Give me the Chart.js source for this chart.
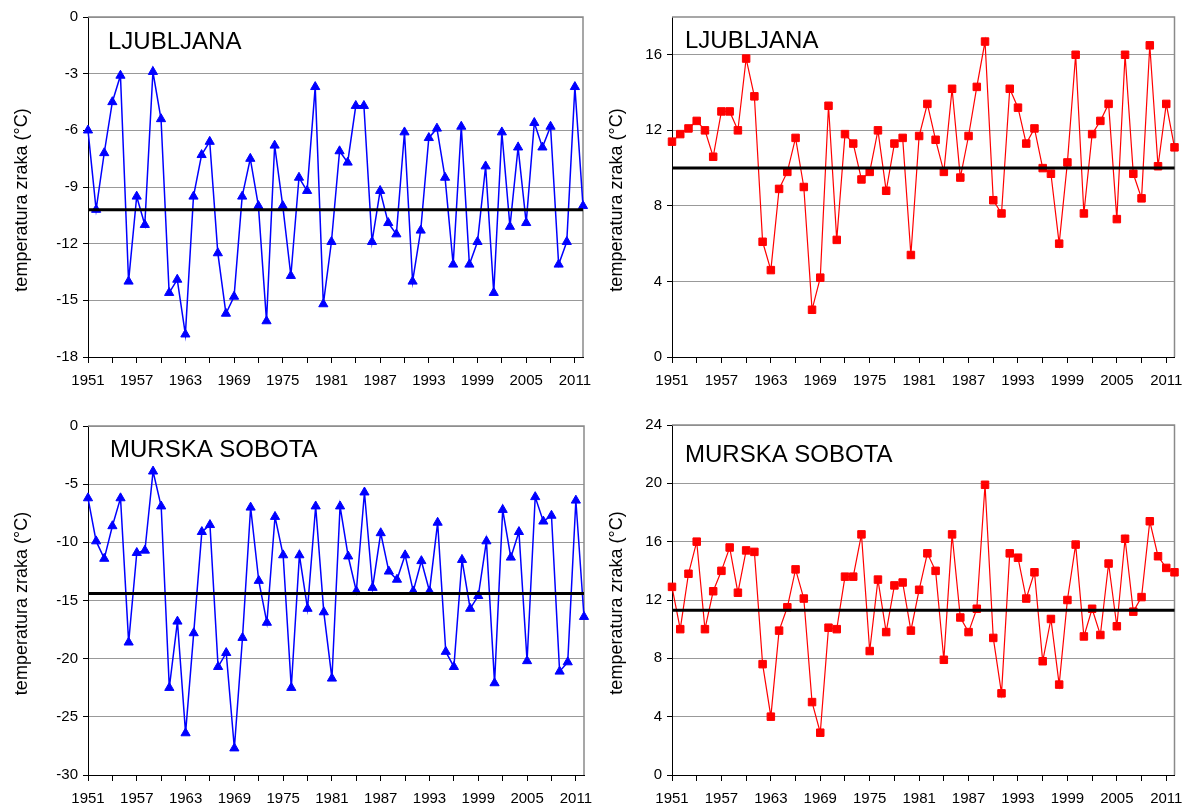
<!DOCTYPE html>
<html>
<head>
<meta charset="utf-8">
<script src="https://cdn.jsdelivr.net/npm/chart.js@4.4.1/dist/chart.umd.min.js"></script>
<style>
  html, body { margin: 0; padding: 0; background: #fff; }
  body { width: 1186px; height: 805px; position: relative; overflow: hidden; }
  canvas { position: absolute; }
</style>
</head>
<body>
<canvas id="ljMinChart" width="595" height="405" style="left:0;top:0"></canvas>
<canvas id="ljMaxChart" width="591" height="405" style="left:595px;top:0"></canvas>
<canvas id="msMinChart" width="595" height="400" style="left:0;top:405px"></canvas>
<canvas id="msMaxChart" width="591" height="400" style="left:595px;top:405px"></canvas>
<script>
// years on the x axis
const years = [1951, 1952, 1953, 1954, 1955, 1956, 1957, 1958, 1959, 1960,
  1961, 1962, 1963, 1964, 1965, 1966, 1967, 1968, 1969, 1970,
  1971, 1972, 1973, 1974, 1975, 1976, 1977, 1978, 1979, 1980,
  1981, 1982, 1983, 1984, 1985, 1986, 1987, 1988, 1989, 1990,
  1991, 1992, 1993, 1994, 1995, 1996, 1997, 1998, 1999, 2000,
  2001, 2002, 2003, 2004, 2005, 2006, 2007, 2008, 2009, 2010,
  2011, 2012];

// ljubljana, lowest temperatures (blue)
const ljMin = [-6.0, -10.2, -7.2, -4.5, -3.1, -14.0, -9.5, -11.0, -2.9, -5.4,
  -14.6, -13.9, -16.8, -9.5, -7.3, -6.6, -12.5, -15.7, -14.8, -9.5,
  -7.5, -10.0, -16.1, -6.8, -10.0, -13.7, -8.5, -9.2, -3.7, -15.2,
  -11.9, -7.1, -7.7, -4.7, -4.7, -11.9, -9.2, -10.9, -11.5, -6.1,
  -14.0, -11.3, -6.4, -5.9, -8.5, -13.1, -5.8, -13.1, -11.9, -7.9,
  -14.6, -6.1, -11.1, -6.9, -10.9, -5.6, -6.9, -5.8, -13.1, -11.9,
  -3.7, -10.0];
const ljMinMean = -10.2;

// ljubljana, highest temperatures (red)
const ljMax = [11.4, 11.8, 12.1, 12.5, 12.0, 10.6, 13.0, 13.0, 12.0, 15.8,
  13.8, 6.1, 4.6, 8.9, 9.8, 11.6, 9.0, 2.5, 4.2, 13.3,
  6.2, 11.8, 11.3, 9.4, 9.8, 12.0, 8.8, 11.3, 11.6, 5.4,
  11.7, 13.4, 11.5, 9.8, 14.2, 9.5, 11.7, 14.3, 16.7, 8.3,
  7.6, 14.2, 13.2, 11.3, 12.1, 10.0, 9.7, 6.0, 10.3, 16.0,
  7.6, 11.8, 12.5, 13.4, 7.3, 16.0, 9.7, 8.4, 16.5, 10.1,
  13.4, 11.1];
const ljMaxMean = 10.0;

// murska sobota, lowest temperatures (blue)
const msMin = [-6.2, -9.9, -11.4, -8.6, -6.2, -18.6, -10.9, -10.7, -3.9, -6.9,
  -22.5, -16.8, -26.4, -17.8, -9.1, -8.5, -20.7, -19.5, -27.7, -18.2,
  -7.0, -13.3, -16.9, -7.8, -11.1, -22.5, -11.1, -15.7, -6.9, -16.0,
  -21.7, -6.9, -11.2, -14.2, -5.7, -13.9, -9.2, -12.5, -13.2, -11.1,
  -14.2, -11.6, -14.2, -8.3, -19.4, -20.7, -11.5, -15.7, -14.6, -9.9,
  -22.1, -7.2, -11.3, -9.1, -20.2, -6.1, -8.2, -7.7, -21.1, -20.3,
  -6.4, -16.4];
const msMinMean = -14.4;

// murska sobota, highest temperatures (red)
const msMax = [12.9, 10.0, 13.8, 16.0, 10.0, 12.6, 14.0, 15.6, 12.5, 15.4,
  15.3, 7.6, 4.0, 9.9, 11.5, 14.1, 12.1, 5.0, 2.9, 10.1,
  10.0, 13.6, 13.6, 16.5, 8.5, 13.4, 9.8, 13.0, 13.2, 9.9,
  12.7, 15.2, 14.0, 7.9, 16.5, 10.8, 9.8, 11.4, 19.9, 9.4,
  5.6, 15.2, 14.9, 12.1, 13.9, 7.8, 10.7, 6.2, 12.0, 15.8,
  9.5, 11.4, 9.6, 14.5, 10.2, 16.2, 11.2, 12.2, 17.4, 15.0,
  14.2, 13.9];
const msMaxMean = 11.3;

const yTitle = 'temperatura zraka (°C)';

document.addEventListener("DOMContentLoaded", function () {
  Chart.defaults.font.family = '"Liberation Sans", Arial, sans-serif';
  Chart.defaults.color = '#000';

// frame, mean line, station name and axis title
  const panelDecor = {
    id: 'panelDecor',
    beforeDatasetsDraw(chart) {
      const { ctx, chartArea: a } = chart;
      ctx.save();
      ctx.strokeStyle = '#8a8a8a';
      ctx.lineWidth = 1.5;
      ctx.beginPath();
      ctx.moveTo(a.left, a.top);
      ctx.lineTo(a.right, a.top);
      ctx.lineTo(a.right, a.bottom);
      ctx.stroke();
      ctx.restore();
    },
    afterDatasetsDraw(chart, args, opts) {
      const { ctx, chartArea: a } = chart;
      const y = chart.scales.y.getPixelForValue(opts.mean);
      ctx.save();
      ctx.strokeStyle = '#000';
      ctx.lineWidth = 3;
      ctx.beginPath();
      ctx.moveTo(a.left, y);
      ctx.lineTo(a.right, y);
      ctx.stroke();
      ctx.fillStyle = '#000';
      ctx.font = '24px "Liberation Sans", Arial, sans-serif';
      ctx.textBaseline = 'alphabetic';
      ctx.fillText(opts.title, a.left + opts.dx, a.top + opts.dy);

      // rotated y axis title
      ctx.translate(22, (a.top + a.bottom) / 2 + opts.axisTitleShift);
      ctx.rotate(-Math.PI / 2);
      ctx.font = '18px "Liberation Sans", Arial, sans-serif';
      ctx.textAlign = 'center';
      ctx.textBaseline = 'middle';
      ctx.fillText(yTitle, 0, 0);
      ctx.restore();
    }
  };

  function makePanel(canvasId, cfg) {
    const ctx = document.getElementById(canvasId).getContext('2d');
    return new Chart(ctx, {
      type: 'line',
      data: {
        labels: years,
        datasets: [{
          data: cfg.values,
          borderColor: cfg.color,
          backgroundColor: cfg.color,
          borderWidth: cfg.lineWidth,
          pointStyle: cfg.marker,
          pointRadius: cfg.markerSize,
          pointBorderWidth: 1,
          pointBackgroundColor: cfg.color,
          pointBorderColor: cfg.color,
          tension: 0,
          clip: false
        }]
      },
      options: {
        responsive: false,
        animation: false,
        events: [],
        layout: { padding: { top: cfg.padTop, right: cfg.padRight, left: 0, bottom: 0 } },
        plugins: {
          legend: { display: false },
          tooltip: { enabled: false },
          panelDecor: {
            mean: cfg.mean, title: cfg.title, dx: cfg.titleDx, dy: cfg.titleDy,
            axisTitleShift: cfg.axisTitleShift
          }
        },
        scales: {
          x: {
            offset: false,
            afterFit: (s) => { s.height = cfg.xAxisHeight; },
            grid: {
              drawOnChartArea: false,
              drawTicks: true,
              tickLength: 6,
              tickColor: (c) => (c.index % 3 === 0 ? '#000' : 'rgba(0,0,0,0)')
            },
            border: { color: '#000', width: 1 },
            ticks: {
              autoSkip: false,
              maxRotation: 0,
              minRotation: 0,
              padding: 9,
              font: { size: 15 },
              callback: (v, i) => (i % 6 === 0 ? String(years[i]) : '')
            }
          },
          y: {
            min: cfg.yMin,
            max: cfg.yMax,
            afterFit: (s) => { s.width = cfg.yAxisWidth; },
            grid: { color: '#999', lineWidth: 1, tickColor: '#000', tickLength: 5 },
            border: { color: '#000', width: 1 },
            ticks: {
              stepSize: cfg.yStep,
              includeBounds: false,
              padding: 5,
              font: { size: 15 },
              callback: (v) => String(v)
            }
          }
        }
      },
      plugins: [panelDecor]
    });
  }

// top row: ljubljana
  makePanel('ljMinChart', {
    values: ljMin, mean: ljMinMean, title: 'LJUBLJANA',
    color: '#0000FF', lineWidth: 1.5, marker: 'triangle', markerSize: 5.3,
    yMin: -18, yMax: 0, yStep: 3,
    padTop: 17, padRight: 12, yAxisWidth: 88, xAxisHeight: 48,
    titleDx: 20, titleDy: 32, axisTitleShift: 13
  });
  makePanel('ljMaxChart', {
    values: ljMax, mean: ljMaxMean, title: 'LJUBLJANA',
    color: '#FF0000', lineWidth: 1.2, marker: 'rect', markerSize: 5.3,
    yMin: 0, yMax: 18, yStep: 4,
    padTop: 17, padRight: 11.5, yAxisWidth: 77, xAxisHeight: 48,
    titleDx: 13, titleDy: 31, axisTitleShift: 13
  });

// bottom row: murska sobota
  makePanel('msMinChart', {
    values: msMin, mean: msMinMean, title: 'MURSKA SOBOTA',
    color: '#0000FF', lineWidth: 1.5, marker: 'triangle', markerSize: 5.3,
    yMin: -30, yMax: 0, yStep: 5,
    padTop: 21, padRight: 11, yAxisWidth: 88, xAxisHeight: 30,
    titleDx: 22, titleDy: 31, axisTitleShift: 3
  });
  makePanel('msMaxChart', {
    values: msMax, mean: msMaxMean, title: 'MURSKA SOBOTA',
    color: '#FF0000', lineWidth: 1.2, marker: 'rect', markerSize: 5.3,
    yMin: 0, yMax: 24, yStep: 4,
    padTop: 20, padRight: 11.5, yAxisWidth: 77, xAxisHeight: 30,
    titleDx: 13, titleDy: 37, axisTitleShift: 3
  });
});
</script>
</body>
</html>
